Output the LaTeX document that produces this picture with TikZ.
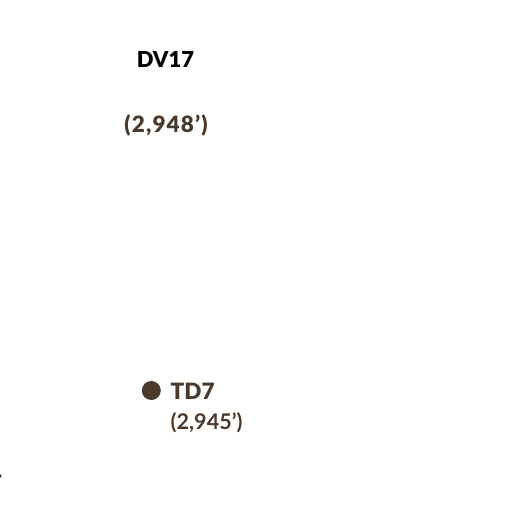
\documentclass[tikz,border=0pt]{standalone}
\usepackage{fontspec}
\setmainfont{Lato}
\newfontfamily\heavy{Lato Black}
\newfontfamily\heavyspaced[LetterSpace=5]{Lato Black}
\definecolor{brn}{HTML}{4B3A2C}
\begin{document}
\begin{tikzpicture}[x=1pt,y=-1pt,
  lbl/.style={inner sep=0pt,font=\heavy\fontsize{22}{24}\selectfont},
  val/.style={inner sep=0pt,text=brn,font=\bfseries\fontsize{21.6}{24}\selectfont}]
\useasboundingbox (0,0) rectangle (512,512);
\node[lbl,anchor=base] (dv) at (165.5,67) {DV17};
\node[val,anchor=base,font=\heavyspaced\fontsize{22.5}{24}\selectfont] (dvv) at (166,132.5) {(2,948’)};
\fill[brn] (151.3,390.5) circle (9.5) coordinate (dot);
\node[lbl,text=brn,anchor=base west,font=\heavy\fontsize{22.5}{24}\selectfont] (td) at (170.5,399) {TD7};
\node[val,anchor=base west] (tdv) at (170.5,429) {(2,945’)};
\fill[brn] (-0.5,476) circle (2);
\end{tikzpicture}
\end{document}
